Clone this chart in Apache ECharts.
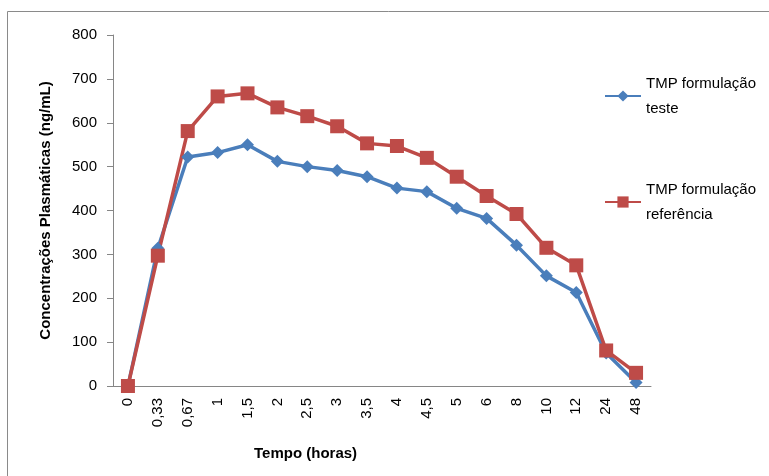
<!DOCTYPE html>
<html>
<head>
    <meta charset="utf-8">
    <title>Concentrações plasmáticas</title>
    <style>
        html, body { margin: 0; padding: 0; background: #fff; }
        #chart { width: 769px; height: 476px; }
    </style>
</head>
<body>
    <div id="chart"></div>
    <script src="https://cdn.jsdelivr.net/npm/echarts@6/dist/echarts.min.js"></script>
    <script>
        // tempos de coleta (horas)
        var tempos = ['0', '0,33', '0,67', '1', '1,5', '2', '2,5', '3', '3,5', '4', '4,5', '5', '6', '8', '10', '12', '24', '48'];
        // concentrações (ng/mL)
        var teste = [0, 314, 522, 532, 550, 512, 500, 491, 477, 451, 443, 405, 382, 321, 251, 213, 75, 8];
        var referencia = [0, 297, 581, 660, 667, 635, 615, 592, 553, 547, 520, 477, 433, 392, 315, 275, 81, 30];
        var nomes = ['TMP formulação\nteste', 'TMP formulação\nreferência'];

        var fonte = 'Liberation Sans';
        var chart = echarts.init(document.getElementById('chart'));
        var option = {
            animation: false,
            textStyle: { fontFamily: fonte },
            // moldura do gráfico
            graphic: [{
                type: 'rect',
                shape: { x: 7.5, y: 11.5, width: 800, height: 500 },
                style: { fill: 'none', stroke: '#8a8a8a', lineWidth: 1 },
                silent: true
            }],
            title: {
                text: 'Tempo (horas)',
                left: 249,
                top: 441,
                textStyle: { fontFamily: fonte, fontSize: 15, fontWeight: 'bold', color: '#000' }
            },
            legend: {
                orient: 'vertical',
                left: 599,
                top: 66,
                itemGap: 56,
                itemWidth: 36,
                itemHeight: 14,
                textStyle: { fontFamily: fonte, fontSize: 15, color: '#000', lineHeight: 25 },
                data: nomes
            },
            grid: { left: 113, right: 118, top: 35, bottom: 90 },
            xAxis: {
                type: 'category',
                data: tempos,
                boundaryGap: true,
                axisLine: { lineStyle: { color: '#868686', width: 1 } },
                axisTick: { show: false },
                axisLabel: { rotate: 90, margin: 12, fontSize: 15, color: '#000', fontFamily: fonte, interval: 0 }
            },
            yAxis: {
                type: 'value',
                min: 0,
                max: 800,
                interval: 100,
                name: 'Concentrações Plasmáticas (ng/mL)',
                nameLocation: 'middle',
                nameGap: 60,
                nameTextStyle: { fontFamily: fonte, fontSize: 15, fontWeight: 'bold', color: '#000' },
                splitLine: { show: false },
                axisLine: { show: true, lineStyle: { color: '#868686', width: 1 } },
                axisTick: { show: true, inside: false, length: 6, lineStyle: { color: '#868686' } },
                axisLabel: { margin: 16, fontSize: 15, color: '#000', fontFamily: fonte }
            },
            series: [{
                name: nomes[0],
                type: 'line',
                data: teste,
                symbol: 'diamond',
                symbolSize: 13,
                itemStyle: { color: '#4a7ebb' },
                lineStyle: { width: 3.5, color: '#4a7ebb' }
            }, {
                name: nomes[1],
                type: 'line',
                data: referencia,
                symbol: 'rect',
                symbolSize: 14,
                itemStyle: { color: '#be4b48' },
                lineStyle: { width: 3.5, color: '#be4b48' }
            }]
        };
        chart.setOption(option);
    </script>
</body>
</html>
